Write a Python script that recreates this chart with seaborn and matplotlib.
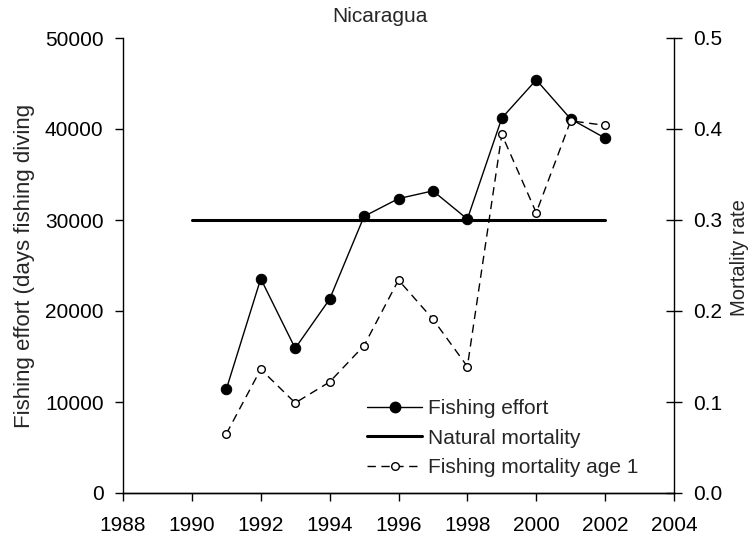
import matplotlib
matplotlib.use("Agg")
import matplotlib.pyplot as plt
import seaborn as sns
import pandas as pd
from matplotlib.lines import Line2D

years = [1991, 1992, 1993, 1994, 1995, 1996, 1997, 1998, 1999, 2000, 2001, 2002]
fishing_effort = [11400, 23550, 15900, 21300, 30400, 32350, 33200, 30100, 41200, 45400, 41100, 39000]
fishing_mortality_age1 = [0.065, 0.136, 0.099, 0.122, 0.162, 0.234, 0.191, 0.139, 0.394, 0.308, 0.409, 0.404]
natural_years = [1990, 2002]
natural_mortality = [0.3, 0.3]

x_ticks = [1988, 1990, 1992, 1994, 1996, 1998, 2000, 2002, 2004]
left_ticks = [0, 10000, 20000, 30000, 40000, 50000]
right_ticks = [0.0, 0.1, 0.2, 0.3, 0.4, 0.5]

sns.set_style("ticks")
plt.rcParams['font.family'] = ['Liberation Sans', 'DejaVu Sans']

fig = plt.figure(figsize=(7.54, 5.40), dpi=100)
ax = fig.add_axes([123/754, 1-493/540, (674-123)/754, (493-38)/540])
ax2 = ax.twinx()

df_e = pd.DataFrame({"year": years, "effort": fishing_effort})
df_m = pd.DataFrame({"year": years, "mort": fishing_mortality_age1})
df_n = pd.DataFrame({"year": natural_years, "nat": natural_mortality})

sns.lineplot(data=df_e, x="year", y="effort", ax=ax, color="black", lw=1.0,
             marker="o", markersize=7.5, markerfacecolor="black",
             markeredgecolor="black", legend=False, zorder=3)
sns.lineplot(data=df_n, x="year", y="nat", ax=ax2, color="black", lw=2.2,
             legend=False, zorder=2)
sns.lineplot(data=df_m, x="year", y="mort", ax=ax2, color="black", lw=1.0,
             dashes=False, marker="o", markersize=5.5, markerfacecolor="white",
             markeredgecolor="black", markeredgewidth=1.0, legend=False, zorder=4)
ax2.lines[-1].set_dashes((6, 4))

ax.set_xlim(1988, 2004)
ax.set_ylim(0, 50000)
ax2.set_ylim(0, 0.5)
ax.set_xticks(x_ticks)
ax.set_yticks(left_ticks)
ax2.set_yticks(right_ticks)
ax2.set_yticklabels([f"{v:.1f}" for v in right_ticks])

for a in (ax, ax2):
    a.spines['top'].set_visible(False)
    for s in a.spines.values():
        s.set_linewidth(1.0)
        s.set_color("black")
ax2.spines['left'].set_visible(False)
ax.spines['right'].set_visible(False)

ax.tick_params(axis='x', direction='out', length=6, width=1, labelsize=15, colors='black', pad=10.5)
ax.tick_params(axis='y', direction='out', length=6, width=1, labelsize=15, colors='black', pad=8)
ax2.tick_params(axis='y', direction='inout', length=12, width=1, labelsize=15, colors='black', pad=8)

ax.set_xlabel("")
ax.set_ylabel("Fishing effort (days fishing diving", fontsize=16, labelpad=7)
ax2.set_ylabel("Mortality rate", fontsize=14.5)
ax2.yaxis.set_label_coords(1.1016, 0.5176)
fig.text(380/754, 1-22/540, "Nicaragua", fontsize=15, ha="center", va="baseline")

handles = [
    Line2D([], [], color="black", lw=1.0, marker="o", markersize=7.5, markerfacecolor="black"),
    Line2D([], [], color="black", lw=2.2),
    Line2D([], [], color="black", lw=1.0, ls=(0, (6, 4)), marker="o", markersize=5.5,
           markerfacecolor="white", markeredgecolor="black"),
]
labels = ["Fishing effort", "Natural mortality", "Fishing mortality age 1"]
ax2.legend(handles, labels, loc="center left", bbox_to_anchor=(367/754, 1-438/540),
           bbox_transform=fig.transFigure, frameon=False, fontsize=15,
           handlelength=2.65, handletextpad=0.3, labelspacing=0.5,
           borderpad=0, borderaxespad=0)

fig.savefig("out.png", dpi=100)
